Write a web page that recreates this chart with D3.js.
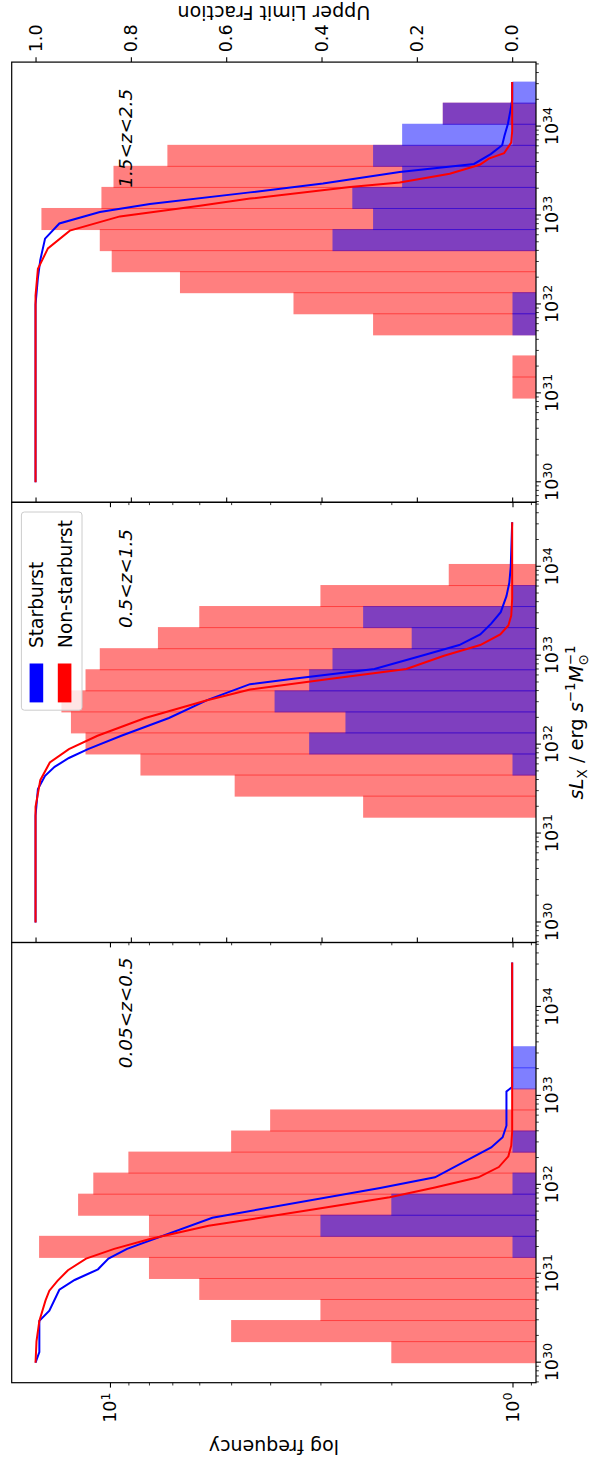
<!DOCTYPE html>
<html>
<head>
<meta charset="utf-8">
<title>sLx histograms</title>
<script src="https://d3js.org/d3.v7.min.js"></script>
<style>
  body { margin: 0; background: #fff; }
  svg { display: block; font-family: "DejaVu Sans", sans-serif; }
</style>
</head>
<body>
<div id="chart"></div>
<script>
// histogram bin edges, log10(sLx)
var binEdges = [30.000, 30.237, 30.474, 30.711, 30.947, 31.184, 31.421, 31.658, 31.895, 32.132,
                32.368, 32.605, 32.842, 33.079, 33.316, 33.553, 33.789, 34.026, 34.263, 34.500];

// frequencies per bin
var nonSB1 = [2, 5, 3, 6, 8, 15, 8, 12, 11, 9, 5, 4, 1, 0, 0, 0, 0, 0, 0];
var sb1    = [0, 0, 0, 0, 0, 1, 3, 2, 1, 0, 1, 0, 0, 1, 1, 0, 0, 0, 0];
var nonSB2 = [0, 0, 0, 0, 0, 2.35, 4.9, 8.4, 11.5, 12.5, 13.2, 11.5, 10.6, 7.6, 6.0, 3.0, 1.44, 0, 0];
var sb2    = [0, 0, 0, 0, 0, 0, 0, 1, 3.2, 2.6, 3.9, 3.2, 2.8, 1.78, 2.35, 1, 0, 0, 0];
var nonSB3 = [0, 0, 0, 0, 1, 1, 0, 2.22, 3.5, 6.7, 9.9, 10.6, 14.8, 10.5, 9.8, 7.2, 1, 1.49, 0];
var sb3    = [0, 0, 0, 0, 0, 0, 0, 1, 1, 0, 0, 2.8, 2.22, 2.5, 1.88, 2.22, 1.88, 1.49, 1];

// upper limit fraction curves: [log10(sLx), fraction]
var ulSB1 = [[30.0,1.0],[30.12,0.992],[30.47,0.992],[30.585,0.971],[30.82,0.95],[30.93,0.918],[31.05,0.869],
  [31.17,0.847],[31.28,0.808],[31.63,0.629],[31.965,0.277],[32.085,0.162],[32.42,0.044],[32.535,0.02],
  [32.665,0.012],[33.05,0.012],[33.1,0.0],[34.5,0.0]];
var ulNon1 = [[30.0,1.0],[30.24,0.998],[30.47,0.992],[30.7,0.979],[30.81,0.971],[30.92,0.954],[31.04,0.932],
  [31.17,0.894],[31.28,0.835],[31.39,0.76],[31.54,0.637],[31.73,0.408],[31.86,0.257],[31.97,0.162],
  [32.085,0.071],[32.2,0.028],[32.32,0.008],[32.44,0.002],[32.6,0.0],[34.5,0.0]];
var ulSB2 = [[30.0,1.0],[31.2,1.0],[31.5,0.995],[31.65,0.98],[31.75,0.96],[31.85,0.93],[31.95,0.89],
  [32.1,0.82],[32.3,0.72],[32.5,0.64],[32.68,0.55],[32.74,0.459],[32.85,0.289],[33.0,0.19],[33.12,0.111],
  [33.24,0.067],[33.36,0.044],[33.49,0.024],[33.67,0.012],[33.82,0.006],[34.0,0.003],[34.5,0.0]];
var ulNon2 = [[30.0,1.0],[31.3,1.0],[31.6,0.99],[31.8,0.97],[31.95,0.93],[32.1,0.87],[32.3,0.77],
  [32.5,0.64],[32.62,0.55],[32.74,0.38],[32.85,0.222],[33.0,0.143],[33.12,0.067],[33.24,0.025],
  [33.34,0.008],[33.45,0.002],[33.64,0.0],[34.5,0.0]];
var ulSB3 = [[30.0,1.0],[32.0,1.0],[32.3,0.995],[32.5,0.99],[32.74,0.98],[32.91,0.95],[33.04,0.865],
  [33.13,0.76],[33.26,0.55],[33.36,0.397],[33.49,0.236],[33.58,0.08],[33.69,0.045],[33.79,0.021],
  [33.9,0.016],[34.03,0.009],[34.2,0.003],[34.3,0.0],[34.5,0.0]];
var ulNon3 = [[30.0,1.0],[32.1,1.0],[32.4,0.995],[32.63,0.974],[32.83,0.928],[32.99,0.823],[33.11,0.655],
  [33.19,0.55],[33.32,0.34],[33.37,0.236],[33.47,0.131],[33.57,0.068],[33.64,0.049],[33.70,0.017],
  [33.82,0.002],[33.95,0.0],[34.5,0.0]];

var zLabels = ["0.05<z<0.5", "0.5<z<1.5", "1.5<z<2.5"];
var xMajor = [1e30, 1e31, 1e32, 1e33, 1e34];
var yMajor = [1, 10];
var fracTicks = [0, 0.2, 0.4, 0.6, 0.8, 1.0];

var panels = [
  {z: zLabels[0], non: nonSB1, sb: sb1, ulNon: ulNon1, ulSB: ulSB1},
  {z: zLabels[1], non: nonSB2, sb: sb2, ulNon: ulNon2, ulSB: ulSB2},
  {z: zLabels[2], non: nonSB3, sb: sb3, ulNon: ulNon3, ulSB: ulSB3}
];

// figure is drawn landscape then turned a quarter turn
var W = 1457, H = 590;
var axL = 74.3, pw = 440.2, axT = 11.7, axB = 536;
var tickFont = 17.5;

var svg = d3.select("#chart").append("svg")
    .attr("width", H)
    .attr("height", W);
svg.append("rect").attr("width", H).attr("height", W).attr("fill", "#fff");

var fig = svg.append("g")
    .attr("transform", "translate(0," + W + ") rotate(-90)");

var y = d3.scaleLog()
    .domain([Math.pow(10, -0.0584), Math.pow(10, 1.2441)])
    .range([axB, axT]);
var yf = d3.scaleLinear()
    .domain([-0.05, 1.05])
    .range([axB, axT]);

var xMinor = [];
for (var e = 29; e <= 34; e++)
  for (var m = 2; m <= 9; m++) xMinor.push(m * Math.pow(10, e));
xMinor = xMinor.filter(function(v) { return v > Math.pow(10, 29.775) && v < Math.pow(10, 34.725); });
var yMinor = [0.9, 2, 3, 4, 5, 6, 7, 8, 9];

function powLabels(g) {
  g.selectAll(".tick text").each(function(d) {
    var t = d3.select(this).text("");
    t.append("tspan").text("10");
    t.append("tspan").attr("dy", "-0.5em").attr("font-size", "0.72em")
      .text(Math.round(Math.log10(d)));
  });
}

function styleAxis(g) {
  g.attr("font-size", tickFont).attr("font-family", "DejaVu Sans").attr("color", "#000");
  g.select(".domain").remove();
  g.selectAll(".tick line").attr("stroke-width", 1.1);
}

panels.forEach(function(p, i) {
  var x0 = axL + i * pw;
  var x = d3.scaleLog()
      .domain([Math.pow(10, 29.775), Math.pow(10, 34.725)])
      .range([x0, x0 + pw]);

  var clipId = "clip" + i;
  fig.append("clipPath").attr("id", clipId)
    .append("rect").attr("x", x0).attr("y", axT).attr("width", pw).attr("height", axB - axT);

  var pg = fig.append("g").attr("clip-path", "url(#" + clipId + ")");

  function bars(counts, color) {
    var d = counts.map(function(c, k) { return {c: c, k: k}; }).filter(function(o) { return o.c > 0; });
    pg.append("g").selectAll("rect")
      .data(d)
      .enter().append("rect")
      .attr("x", function(o) { return x(Math.pow(10, binEdges[o.k])) - 0.5; })
      .attr("width", function(o) { return x(Math.pow(10, binEdges[o.k + 1])) - x(Math.pow(10, binEdges[o.k])) + 1; })
      .attr("y", function(o) { return y(o.c); })
      .attr("height", function(o) { return axB + 2 - y(o.c); })
      .attr("fill", color)
      .attr("fill-opacity", 0.5);
  }
  bars(p.non, "#ff0000");
  bars(p.sb, "#0000ff");

  var line = d3.line()
      .x(function(d) { return x(Math.pow(10, d[0])); })
      .y(function(d) { return yf(d[1]); });
  pg.append("path").datum(p.ulSB)
    .attr("d", line).attr("fill", "none").attr("stroke", "#0000ff").attr("stroke-width", 2);
  pg.append("path").datum(p.ulNon)
    .attr("d", line).attr("fill", "none").attr("stroke", "#ff0000").attr("stroke-width", 2);

  // bottom axis
  var gx = fig.append("g").attr("transform", "translate(0," + axB + ")")
      .call(d3.axisBottom(x).tickValues(xMajor).tickSize(4.9).tickPadding(4.9));
  styleAxis(gx);
  powLabels(gx);
  var gxm = fig.append("g").attr("transform", "translate(0," + axB + ")")
      .call(d3.axisBottom(x).tickValues(xMinor).tickSize(2.8).tickFormat(""));
  styleAxis(gxm);
  gxm.selectAll(".tick line").attr("stroke-width", 0.8);

  // left axis (labels only on first panel)
  var gy = fig.append("g").attr("transform", "translate(" + x0 + ",0)")
      .call(d3.axisLeft(y).tickValues(yMajor).tickSize(4.9).tickPadding(4.9));
  styleAxis(gy);
  if (i === 0) powLabels(gy); else gy.selectAll(".tick text").remove();
  var gym = fig.append("g").attr("transform", "translate(" + x0 + ",0)")
      .call(d3.axisLeft(y).tickValues(yMinor).tickSize(2.8).tickFormat(""));
  styleAxis(gym);
  gym.selectAll(".tick line").attr("stroke-width", 0.8);

  // right axis (upper limit fraction)
  var gr = fig.append("g").attr("transform", "translate(" + (x0 + pw) + ",0)")
      .call(d3.axisRight(yf).tickValues(fracTicks).tickSize(4.9).tickPadding(4.9).tickFormat(d3.format(".1f")));
  styleAxis(gr);
  if (i !== 2) gr.selectAll(".tick text").remove();

  // frame
  fig.append("rect")
    .attr("x", x0).attr("y", axT).attr("width", pw).attr("height", axB - axT)
    .attr("fill", "none").attr("stroke", "#000").attr("stroke-width", 1.2);

  // redshift label
  fig.append("text")
    .attr("x", x0 + 314.5).attr("y", 132)
    .attr("font-size", 18.4).attr("font-style", "italic")
    .text(p.z);
});

// legend in middle panel
var lg = fig.append("g");
lg.append("rect")
  .attr("x", 746.8).attr("y", 21.4).attr("width", 198.2).attr("height", 60.6).attr("rx", 3)
  .attr("fill", "#fff").attr("fill-opacity", 0.8)
  .attr("stroke", "#cccccc").attr("stroke-width", 1);
var legendItems = [{name: "Starburst", color: "#0000ff"}, {name: "Non-starburst", color: "#ff0000"}];
legendItems.forEach(function(it, j) {
  lg.append("rect").attr("x", 754.6).attr("y", 29.6 + j * 28.2).attr("width", 38.9).attr("height", 13.6)
    .attr("fill", it.color);
  lg.append("text").attr("x", 809).attr("y", 43.3 + j * 28.2).attr("font-size", 18.6).text(it.name);
});

// axis titles
var xl = fig.append("text")
  .attr("x", axL + 1.5 * pw).attr("y", 583)
  .attr("text-anchor", "middle").attr("font-size", 19.4);
xl.append("tspan").attr("font-style", "italic").text("sL");
xl.append("tspan").attr("font-size", 13.5).attr("dy", 4).text("X");
xl.append("tspan").attr("dy", -4).text(" / erg ");
xl.append("tspan").attr("font-style", "italic").text("s");
xl.append("tspan").attr("font-size", 13.5).attr("dy", -8).text("\u22121");
xl.append("tspan").attr("dy", 8).attr("font-style", "italic").text("M");
xl.append("tspan").attr("font-size", 13.5).attr("dy", 5).text("\u2299");
xl.append("tspan").attr("font-size", 13.5).attr("dx", -11).attr("dy", -13).text("\u22121");

fig.append("text")
  .attr("transform", "translate(17," + ((axT + axB) / 2) + ") rotate(-90)")
  .attr("text-anchor", "middle").attr("font-size", 19)
  .text("log frequency");

fig.append("text")
  .attr("transform", "translate(1451.5," + ((axT + axB) / 2) + ") rotate(-90)")
  .attr("text-anchor", "middle").attr("font-size", 19)
  .text("Upper Limit Fraction");
</script>
</body>
</html>
